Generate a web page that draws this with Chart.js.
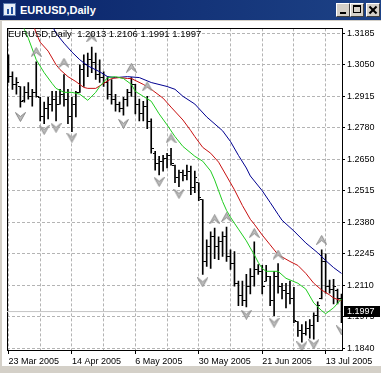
<!DOCTYPE html>
<html><head><meta charset="utf-8">
<script src="https://cdn.jsdelivr.net/npm/chart.js@4.4.1/dist/chart.umd.min.js"></script>
<style>
html,body{margin:0;padding:0;}
body{width:381px;height:373px;background:#d4d0c8;position:relative;overflow:hidden;font-family:"Liberation Sans",Arial,sans-serif;}
#titlebar{position:absolute;left:0;top:0;width:381px;height:20px;background:linear-gradient(to right,#0a246a,#1d4286);}
#icon{position:absolute;left:3px;top:3px;width:13px;height:13px;background:#e8eef8;border:1px solid #5a7ab0;box-sizing:border-box;}
#icon i{position:absolute;background:#2050a0;width:2px;}
#ttl{position:absolute;left:20px;top:3px;color:#fff;font:bold 11px "Liberation Sans",Arial,sans-serif;line-height:14px;}
.btn{position:absolute;top:3px;width:14px;height:14px;background:#d4d0c8;box-sizing:border-box;border-top:1px solid #fff;border-left:1px solid #fff;border-right:1px solid #404040;border-bottom:1px solid #404040;}
#bmin i{position:absolute;left:3px;top:8px;width:6px;height:2px;background:#000;}
#bmax i{position:absolute;left:2px;top:1px;width:8px;height:8px;border:1px solid #000;border-top-width:2px;box-sizing:border-box;}
#bcls i,#bcls b{position:absolute;left:5px;top:1px;width:2px;height:10px;background:#000;}
#bcls i{transform:rotate(45deg);} #bcls b{transform:rotate(-45deg);}
#wrap{position:absolute;left:2px;top:21px;width:379px;height:345px;background:#fff;}
#legend{position:absolute;left:8px;top:28px;font:9.5px "Liberation Sans",Arial,sans-serif;line-height:11px;color:#000;white-space:pre;}
canvas{position:absolute;left:0;top:0;}
</style></head><body>
<div id="titlebar"><div id="icon"><i style="left:3px;top:5px;height:5px"></i><i style="left:7px;top:3px;height:7px"></i></div><div id="ttl">EURUSD,Daily</div>
<div class="btn" id="bmin" style="left:336px"><i></i></div><div class="btn" id="bmax" style="left:350px"><i></i></div><div class="btn" id="bcls" style="left:366px"><i></i><b></b></div></div>
<div id="wrap"><canvas id="c" width="379" height="345"></canvas></div>
<div id="legend"></div>
<script>
// ---- data ----
const symbolText = 'EURUSD,Daily';
const legendValues = ['1.2013', '1.2106', '1.1991', '1.1997'];
const dateLabels = ['23 Mar 2005', '14 Apr 2005', '6 May 2005', '30 May 2005', '21 Jun 2005', '13 Jul 2005'];
const dateTickIndex = [0, 16, 32, 48, 64, 80];
const gridIndex = [0, 8, 16, 24, 32, 40, 48, 56, 64, 72, 80];
const yTickValues = [1.3185, 1.30505, 1.2916, 1.27815, 1.2647, 1.25125, 1.2378, 1.22435, 1.2109, 1.19745, 1.1840];
const yTickLabels = ['1.3185', '1.3050', '1.2915', '1.2780', '1.2650', '1.2515', '1.2380', '1.2245', '1.2110', '1.1975', '1.1840'];
const bidPrice = 1.1997;
const bidLabel = '1.1997';

const openP = [1.3051,1.3000,1.2967,1.2958,1.2899,1.2933,1.2916,1.2933,1.2912,1.2832,
1.2866,1.2883,1.2904,1.2883,1.2925,1.2904,1.2832,1.2883,1.2933,1.3030,
1.3051,1.3072,1.3059,1.3009,1.2996,1.2975,1.2925,1.2904,1.2883,1.2866,
1.2904,1.2933,1.2967,1.2883,1.2841,1.2874,1.2807,1.2673,1.2631,1.2639,
1.2652,1.2664,1.2622,1.2568,1.2589,1.2580,1.2597,1.2526,1.2547,1.2475,
1.2211,1.2274,1.2316,1.2274,1.2295,1.2316,1.2232,1.2202,1.2118,1.2064,
1.2043,1.2106,1.2148,1.2177,1.2169,1.2127,1.2148,1.2043,1.2148,1.2106,
1.2085,1.2076,1.2051,1.1954,1.1917,1.1904,1.1925,1.1938,1.1980,1.2051,
1.2211,1.2106,1.2093,1.2085,1.2051];
const highP = [1.3093,1.3021,1.2996,1.2958,1.2958,1.2975,1.2946,1.3063,1.2912,1.2891,
1.2912,1.2937,1.2937,1.2946,1.3009,1.2946,1.2912,1.2937,1.3051,1.3093,
1.3101,1.3126,1.3101,1.3072,1.3021,1.3000,1.2988,1.2925,1.2891,1.2912,
1.2946,1.2996,1.2967,1.2904,1.2895,1.2916,1.2820,1.2681,1.2660,1.2664,
1.2673,1.2694,1.2622,1.2601,1.2601,1.2622,1.2618,1.2597,1.2547,1.2475,
1.2303,1.2337,1.2353,1.2316,1.2337,1.2358,1.2261,1.2253,1.2127,1.2127,
1.2156,1.2181,1.2295,1.2198,1.2194,1.2194,1.2148,1.2169,1.2202,1.2118,
1.2118,1.2127,1.2101,1.1954,1.1942,1.1954,1.1963,1.1992,1.2039,1.2261,
1.2244,1.2131,1.2135,1.2093,1.2072];
const lowP = [1.2975,1.2946,1.2925,1.2870,1.2891,1.2904,1.2874,1.2912,1.2811,1.2799,
1.2820,1.2853,1.2811,1.2883,1.2874,1.2799,1.2765,1.2828,1.2933,1.2958,
1.3000,1.3017,1.2988,1.2975,1.2958,1.2904,1.2883,1.2853,1.2849,1.2836,
1.2874,1.2916,1.2841,1.2811,1.2811,1.2778,1.2673,1.2601,1.2580,1.2597,
1.2610,1.2622,1.2547,1.2530,1.2555,1.2559,1.2496,1.2505,1.2471,1.2156,
1.2190,1.2181,1.2223,1.2219,1.2232,1.2211,1.2177,1.2106,1.2022,1.2022,
1.2017,1.2072,1.2106,1.2156,1.2072,1.2127,1.2022,1.1980,1.2076,1.2051,
1.2013,1.2030,1.1950,1.1891,1.1866,1.1896,1.1883,1.1879,1.1954,1.2051,
1.2076,1.2076,1.2030,1.2030,1.1950];
const closeP = [1.3000,1.2967,1.2975,1.2895,1.2933,1.2916,1.2933,1.2916,1.2832,1.2866,
1.2883,1.2904,1.2883,1.2925,1.2904,1.2832,1.2883,1.2933,1.3030,1.3051,
1.3072,1.3059,1.3009,1.2996,1.2975,1.2925,1.2904,1.2883,1.2866,1.2904,
1.2933,1.2967,1.2883,1.2841,1.2874,1.2807,1.2694,1.2631,1.2639,1.2652,
1.2664,1.2631,1.2568,1.2589,1.2580,1.2597,1.2526,1.2568,1.2484,1.2211,
1.2274,1.2316,1.2274,1.2295,1.2316,1.2232,1.2202,1.2118,1.2064,1.2043,
1.2106,1.2148,1.2177,1.2169,1.2106,1.2148,1.2043,1.2148,1.2106,1.2085,
1.2076,1.2051,1.1959,1.1917,1.1904,1.1925,1.1938,1.1980,1.2022,1.2211,
1.2106,1.2093,1.2106,1.2051,1.1997];

const greenIdx = [3,4,5,7,9,11,12,14,16,18,20,22,23,25,27,29,31,32,34,36,38,40,42,44,47,49,51,52,53,54,55,56,57,58,59,60,61,62,63,64,65,68,70,73,75,77,79,80,82,84];
const greenVal = [1.3261,1.3202,1.3164,1.3072,1.3017,1.2971,1.2950,1.2933,1.2933,1.2925,1.2899,1.2933,1.2958,1.2996,1.3000,1.2992,1.2967,1.2937,1.2916,1.2895,1.2841,1.2794,1.2744,1.2702,1.2660,1.2639,1.2597,1.2559,1.2513,1.2467,1.2429,1.2400,1.2374,1.2349,1.2324,1.2299,1.2269,1.2240,1.2207,1.2181,1.2169,1.2169,1.2139,1.2118,1.2093,1.2034,1.2001,1.1988,1.2013,1.2051];
const redIdx = [6,7,8,10,12,13,15,17,19,20,22,24,26,28,30,31,34,36,39,41,44,46,47,49,51,53,55,57,59,61,62,64,66,68,71,73,75,77,79,81,82,84];
const redVal = [1.3235,1.3185,1.3147,1.3109,1.3051,1.3030,1.3000,1.2979,1.2954,1.2950,1.2950,1.2971,1.2992,1.2996,1.2992,1.2992,1.2967,1.2946,1.2908,1.2870,1.2815,1.2769,1.2744,1.2698,1.2673,1.2635,1.2576,1.2517,1.2450,1.2391,1.2370,1.2324,1.2282,1.2240,1.2211,1.2194,1.2160,1.2118,1.2089,1.2068,1.2055,1.2043];
const blueIdx = [11,12,14,16,18,20,23,25,27,30,33,36,40,42,44,47,50,54,56,58,60,61,64,66,68,69,72,74,75,78,80,82,84];
const blueVal = [1.3219,1.3185,1.3143,1.3105,1.3072,1.3046,1.3021,1.3000,1.2996,1.3000,1.2996,1.2975,1.2958,1.2946,1.2916,1.2883,1.2828,1.2769,1.2723,1.2664,1.2610,1.2576,1.2513,1.2463,1.2412,1.2387,1.2341,1.2307,1.2290,1.2248,1.2215,1.2185,1.2160];

const fracUpIdx = [7,14,21,31,35,41,52,55,62,68,79];
const fracUpVal = [1.3105,1.3059,1.3168,1.3038,1.2958,1.2736,1.2391,1.2400,1.2332,1.2240,1.2303];
const fracDnIdx = [3,9,12,16,29,38,43,49,60,67,74,77,84];
const fracDnVal = [1.2828,1.2773,1.2782,1.2740,1.2799,1.2551,1.2500,1.2122,1.1984,1.1950,1.1849,1.1858,1.1917];

// ---- legend text ----
document.getElementById('legend').textContent = symbolText + '  ' + legendValues.join(' ');

// ---- marker images ----
function tickImg(left) {
  const c = document.createElement('canvas'); c.width = 5; c.height = 1;
  const g = c.getContext('2d'); g.fillStyle = '#000';
  g.fillRect(left ? 0 : 3, 0, 2, 1);
  return c;
}
function arrowImg(up) {
  const c = document.createElement('canvas'); c.width = 11; c.height = 10;
  const g = c.getContext('2d');
  g.beginPath();
  if (up) { g.moveTo(5.5, 0.5); g.lineTo(10.5, 9.5); g.lineTo(5.5, 5.5); g.lineTo(0.5, 9.5); }
  else { g.moveTo(5.5, 9.5); g.lineTo(10.5, 0.5); g.lineTo(5.5, 4.5); g.lineTo(0.5, 0.5); }
  g.closePath();
  g.fillStyle = '#bdbdbd'; g.fill();
  g.strokeStyle = '#8a8a8a'; g.lineWidth = 1; g.stroke();
  return c;
}
const openImg = tickImg(true), closeImg = tickImg(false);
const upImg = arrowImg(true), dnImg = arrowImg(false);

const xMin = -0.375, xMax = 84.125;
const pts = (xs, ys) => xs.map((x, k) => ({x: x, y: ys[k]}));
const idx = highP.map((_, i) => i);

const bidPlugin = {
  id: 'bidLabel',
  afterDraw(chart) {
    const {ctx, chartArea, scales} = chart;
    const y = Math.round(scales.y.getPixelForValue(bidPrice));
    ctx.save();
    ctx.fillStyle = '#000';
    ctx.fillRect(chartArea.right + 2, y - 6, 36, 11);
    ctx.fillStyle = '#fff';
    ctx.font = '9px "Liberation Sans", Arial, sans-serif';
    ctx.textBaseline = 'middle';
    ctx.fillText(bidLabel, chartArea.right + 5, y);
    ctx.restore();
  }
};

new Chart(document.getElementById('c'), {
  type: 'bar',
  data: {
    datasets: [
      {type: 'line', data: [{x: xMin, y: bidPrice}, {x: xMax, y: bidPrice}], borderColor: '#c4c4c4', borderWidth: 1, pointRadius: 0, order: 6},
      {type: 'bar', data: idx.map(i => ({x: i, y: [lowP[i], highP[i]]})), backgroundColor: '#000', barThickness: 1, borderWidth: 0, grouped: false, order: 5},
      {type: 'scatter', data: pts(idx, openP), pointStyle: openImg, pointRadius: 1, order: 4},
      {type: 'scatter', data: pts(idx, closeP), pointStyle: closeImg, pointRadius: 1, order: 4},
      {type: 'line', data: pts(blueIdx, blueVal), borderColor: '#000090', borderWidth: 1, pointRadius: 0, tension: 0, order: 3},
      {type: 'line', data: pts(redIdx, redVal), borderColor: '#c81010', borderWidth: 1, pointRadius: 0, tension: 0, order: 2},
      {type: 'line', data: pts(greenIdx, greenVal), borderColor: '#20cc20', borderWidth: 1, pointRadius: 0, tension: 0, order: 1},
      {type: 'scatter', data: pts(fracUpIdx, fracUpVal), pointStyle: upImg, pointRadius: 1, order: 0},
      {type: 'scatter', data: pts(fracDnIdx, fracDnVal), pointStyle: dnImg, pointRadius: 1, order: 0}
    ]
  },
  options: {
    responsive: false, animation: false, devicePixelRatio: 1,
    events: [],
    layout: {padding: {left: 2, top: 2, right: 0, bottom: 0}},
    plugins: {legend: {display: false}, tooltip: {enabled: false}, title: {display: false}},
    scales: {
      x: {
        type: 'linear', position: 'bottom', min: xMin, max: xMax, offset: false,
        afterBuildTicks: s => { s.ticks = gridIndex.map(v => ({value: v})); },
        afterFit: s => { s.height = 16; },
        ticks: {
          autoSkip: false, maxRotation: 0, minRotation: 0, align: 'start', padding: 2,
          color: '#000', font: {family: '"Liberation Sans", Arial, sans-serif', size: 9},
          callback: v => { const k = dateTickIndex.indexOf(v); return k >= 0 ? dateLabels[k] : ''; }
        },
        grid: {
          offset: false, color: '#b4b4b4', lineWidth: 1, tickLength: 4, tickWidth: 1,
          tickColor: c => (c.tick && dateTickIndex.includes(c.tick.value)) ? '#000' : 'rgba(0,0,0,0)'
        },
        border: {display: true, color: '#000', width: 1, dash: [3, 2]}
      },
      y: {
        type: 'linear', position: 'right', min: 1.1833, max: 1.3206,
        afterBuildTicks: s => { s.ticks = yTickValues.map(v => ({value: v})); },
        afterFit: s => { s.width = 39; },
        ticks: {
          padding: 2, color: '#000', font: {family: '"Liberation Sans", Arial, sans-serif', size: 9},
          callback: (v, i) => yTickLabels[i]
        },
        grid: {color: '#b4b4b4', lineWidth: 1, tickLength: 3, tickColor: '#000'},
        border: {display: true, color: '#000', width: 1, dash: [3, 2]}
      },
      yL: {
        type: 'linear', position: 'left', min: 0, max: 1,
        afterFit: s => { s.width = 0; },
        ticks: {display: false}, grid: {display: false, drawTicks: false},
        border: {display: true, color: '#000', width: 1}
      },
      xT: {
        type: 'linear', position: 'top', min: 0, max: 1,
        afterFit: s => { s.height = 0; },
        ticks: {display: false}, grid: {display: false, drawTicks: false},
        border: {display: true, color: '#000', width: 1}
      }
    }
  },
  plugins: [bidPlugin]
});
</script>
</body></html>
